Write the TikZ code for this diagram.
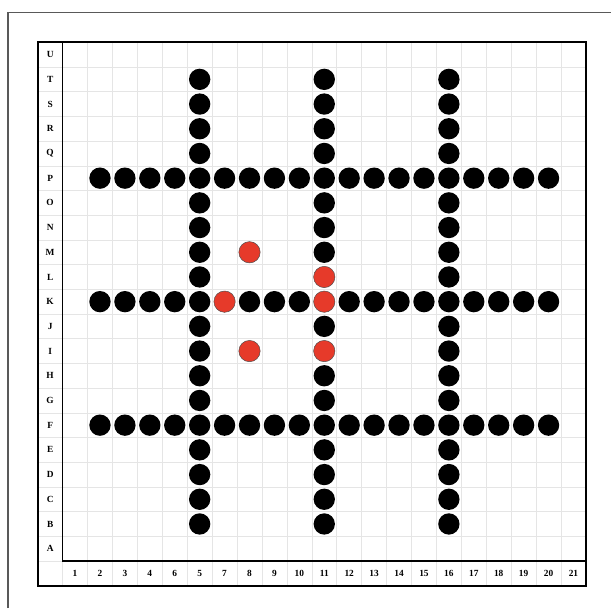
\documentclass[tikz,border=0pt]{standalone}
\usepackage{fontspec}
\setmainfont{Liberation Serif}
\usetikzlibrary{positioning}
\definecolor{cGrid}{gray}{0.90}
\definecolor{cEdge}{gray}{0.35}
\definecolor{cRed} {RGB}{230,58,42}

\begin{document}
\begin{tikzpicture}[
    x=0.7476cm, y=0.741cm,
    gridline/.style={draw=cGrid, line width=0.4pt},
    frame/.style={draw=black, line width=2pt},
    sep/.style={draw=black, line width=1.2pt},
    lbl/.style={inner sep=0pt, font=\fontsize{8}{9.6}\selectfont\bfseries},
    stone/.style={circle, fill=black, minimum size=0.64cm, inner sep=0pt},
    redstone/.style={circle, fill=cRed, draw=black!70, line width=0.4pt,
                     minimum size=0.64cm, inner sep=0pt},
]
\useasboundingbox (-2.512,-1.903) rectangle (22.006,22.713);

% --- outer sheet edge (only top and left show)
\draw[draw=cEdge, line width=0.9pt] (-2.19,-1.903) -- (-2.19,22.19) -- (22.006,22.19);

% --- light grid, labels included
\foreach \i in {-1,...,21} {
    \draw[gridline] (\i,-1) -- (\i,21);
    \draw[gridline] (-1,\i) -- (21,\i);
}

% --- frame and label separators
\draw[frame] (-1,-1) rectangle (21,21);
\draw[sep] (0,21) -- (0,0) -- (21,0);

% --- row labels
\foreach \l [count=\r] in {A,B,C,D,E,F,G,H,I,J,K,L,M,N,O,P,Q,R,S,T,U}
    \node[lbl] (row-\l) at (-0.5,\r-0.5) {\l};

% --- column labels (as printed)
\foreach \t [count=\c] in {1,2,3,4,6,5,7,8,9,10,11,12,13,14,15,16,17,18,19,20,21}
    \node[lbl] (col-\c) at (\c-0.5,-0.5) {\t};

% --- horizontal rows F and P
\foreach \r in {6,16}
    \foreach \c in {2,...,20}
        \node[stone] (s-\c-\r) at (\c-0.5,\r-0.5) {};
% --- horizontal row K
\foreach \c in {2,3,4,5,6,8,9,10,12,13,14,15,16,17,18,19,20}
    \node[stone] (s-\c-11) at (\c-0.5,10.5) {};

% --- vertical columns
\foreach \c in {6,16}
    \foreach \r in {2,3,4,5,7,8,9,10,12,13,14,15,17,18,19,20}
        \node[stone] (s-\c-\r) at (\c-0.5,\r-0.5) {};
\foreach \r in {2,3,4,5,7,8,10,13,14,15,17,18,19,20}
    \node[stone] (s-11-\r) at (10.5,\r-0.5) {};

% --- red stones
\node[redstone] (r-8-13)  at (7.5,12.5) {};
\node[redstone] (r-11-12) at (10.5,11.5) {};
\node[redstone] (r-7-11)  at (6.5,10.5) {};
\node[redstone] (r-11-11) at (10.5,10.5) {};
\node[redstone] (r-8-9)   at (7.5,8.5) {};
\node[redstone] (r-11-9)  at (10.5,8.5) {};
\end{tikzpicture}
\end{document}
